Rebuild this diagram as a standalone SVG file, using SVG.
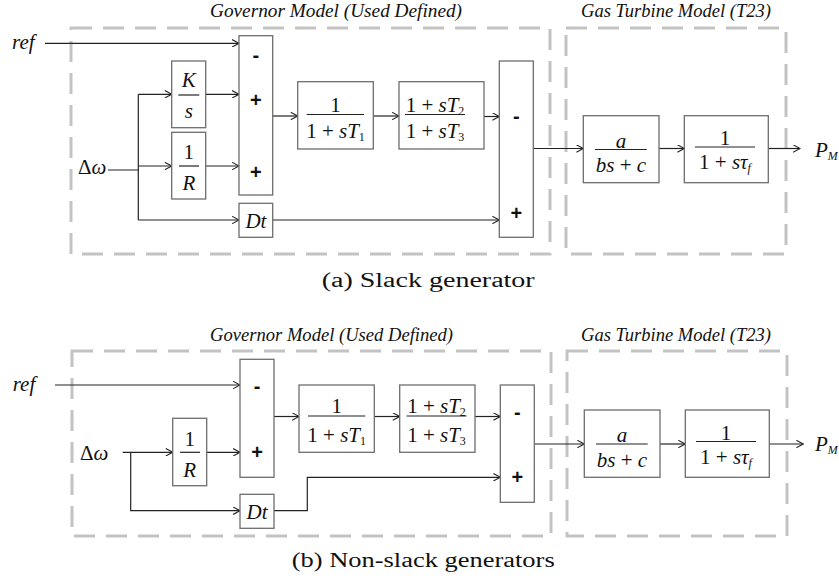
<svg xmlns="http://www.w3.org/2000/svg" width="839" height="581" viewBox="0 0 839 581">
  <style>
    .frame { fill: none; stroke: #c3c3c3; stroke-width: 3; stroke-dasharray: 21 11; }
    .blk { fill: #ffffff; stroke: #6e6e6e; stroke-width: 1.3; }
    .wire { fill: none; stroke: #222222; stroke-width: 1.2; }
    .arr { marker-end: url(#head); }
    .bar { stroke: #222222; stroke-width: 1.2; }
    .m { font-family: 'Liberation Serif', 'DejaVu Serif', serif; font-size: 21px; fill: #111111; text-anchor: middle; }
    .i { font-style: italic; }
    .sub { font-size: 12px; }
    .sign { font-family: 'Liberation Sans', sans-serif; font-size: 20px; font-weight: bold; fill: #111111; text-anchor: middle; }
    .title { font-family: 'Liberation Serif', 'DejaVu Serif', serif; font-style: italic; font-size: 18px; fill: #111111; }
    .cap { font-family: 'Liberation Serif', 'DejaVu Serif', serif; font-size: 20px; fill: #111111; }
  </style>
  <defs>
    <marker id="head" viewBox="0 0 8 8" refX="7.4" refY="4" markerWidth="8" markerHeight="8" markerUnits="userSpaceOnUse" orient="auto">
      <path d="M0.5,0.3 L7.4,4 L0.5,7.7" fill="none" stroke="#222222" stroke-width="1.1"/>
    </marker>
  </defs>
  <rect width="839" height="581" fill="#ffffff"/>

  <!-- ===== (a) Slack generator ===== -->
  <g id="a-frames">
    <rect class="frame" x="71" y="28" width="479" height="226"/>
    <rect class="frame" x="566" y="28" width="220" height="226"/>
    <text class="title" x="210" y="16.5" textLength="252" lengthAdjust="spacingAndGlyphs">Governor Model (Used Defined)</text>
    <text class="title" x="581" y="16.5" textLength="190" lengthAdjust="spacingAndGlyphs">Gas Turbine Model (T23)</text>
  </g>

  <g id="a-wires">
    <path class="wire arr" d="M45,43.3 H239"/>
    <path class="wire" d="M108,170 H138.3 M138.3,94.3 V220"/>
    <path class="wire arr" d="M138.3,94.3 H171.7"/>
    <path class="wire arr" d="M138.3,166 H171.7"/>
    <path class="wire arr" d="M138.3,220 H239"/>
    <path class="wire arr" d="M205.7,94.3 H239"/>
    <path class="wire arr" d="M205.7,166 H239"/>
    <path class="wire arr" d="M272.7,116 H297.7"/>
    <path class="wire arr" d="M373.3,116 H399"/>
    <path class="wire arr" d="M484,116.5 H499.3"/>
    <path class="wire arr" d="M272.7,220 H499.3"/>
    <path class="wire arr" d="M533.3,148.5 H583.3"/>
    <path class="wire arr" d="M659,148.5 H684.3"/>
    <path class="wire arr" d="M768.3,148.5 H800"/>
  </g>

  <g id="a-ref"><text class="m i" x="12" y="48.5" style="text-anchor:start">ref</text></g>
  <g id="a-dw"><text class="m" x="78" y="173.5" style="text-anchor:start">Δ<tspan class="i">ω</tspan></text></g>

  <g id="a-ks">
    <rect class="blk" x="171.7" y="61" width="34" height="66.7"/>
    <text class="m i" x="188.8" y="86.7">K</text>
    <line class="bar" x1="178.3" y1="95" x2="199.3" y2="95"/>
    <text class="m i" x="188.8" y="118.3">s</text>
  </g>
  <g id="a-r">
    <rect class="blk" x="171.7" y="132.3" width="34" height="66.7"/>
    <text class="m" x="188.8" y="159">1</text>
    <line class="bar" x1="179" y1="166" x2="199" y2="166"/>
    <text class="m i" x="188.8" y="190">R</text>
  </g>
  <g id="a-sum1">
    <rect class="blk" x="239" y="35.7" width="33.7" height="159.3"/>
    <text class="sign" x="255.9" y="62">-</text>
    <text class="sign" x="255.9" y="107">+</text>
    <text class="sign" x="255.9" y="179">+</text>
  </g>
  <g id="a-dt">
    <rect class="blk" x="239" y="203.3" width="33.7" height="34"/>
    <text class="m i" x="255.9" y="228">Dt</text>
  </g>
  <g id="a-t1">
    <rect class="blk" x="297.7" y="81.7" width="75.6" height="67.3"/>
    <text class="m" x="335.5" y="112.3">1</text>
    <line class="bar" x1="306.7" y1="114.5" x2="364" y2="114.5"/>
    <text class="m" x="335.5" y="138.3">1 + <tspan class="i">sT</tspan><tspan class="sub" dy="3">1</tspan></text>
  </g>
  <g id="a-t23">
    <rect class="blk" x="399" y="81.7" width="85" height="67.3"/>
    <text class="m" x="435" y="112.3">1 + <tspan class="i">sT</tspan><tspan class="sub" dy="3">2</tspan></text>
    <line class="bar" x1="405" y1="114.5" x2="465" y2="114.5"/>
    <text class="m" x="435" y="138.3">1 + <tspan class="i">sT</tspan><tspan class="sub" dy="3">3</tspan></text>
  </g>
  <g id="a-sum2">
    <rect class="blk" x="499.3" y="61" width="34" height="176.3"/>
    <text class="sign" x="516.3" y="123">-</text>
    <text class="sign" x="516.3" y="219.5">+</text>
  </g>
  <g id="a-abc">
    <rect class="blk" x="583.3" y="115.7" width="75.7" height="67"/>
    <text class="m i" x="621" y="147.5">a</text>
    <line class="bar" x1="595" y1="149.5" x2="646.7" y2="149.5"/>
    <text class="m" x="621" y="171.7"><tspan class="i">bs</tspan> + <tspan class="i">c</tspan></text>
  </g>
  <g id="a-tf">
    <rect class="blk" x="684.3" y="115.7" width="84" height="67"/>
    <text class="m" x="725" y="145">1</text>
    <line class="bar" x1="695" y1="147" x2="755" y2="147"/>
    <text class="m" x="725" y="169">1 + <tspan class="i">sτ</tspan><tspan class="sub i" dy="3">f</tspan></text>
  </g>
  <g id="a-pm"><text class="m i" x="815" y="157" style="text-anchor:start">P<tspan class="sub" font-size="11" dy="3">M</tspan></text></g>

  <g id="a-caption"><text class="cap" x="321.7" y="286.5" textLength="213" lengthAdjust="spacingAndGlyphs">(a) Slack generator</text></g>

  <!-- ===== (b) Non-slack generators ===== -->
  <g id="b-frames">
    <rect class="frame" x="72" y="351" width="479" height="185"/>
    <rect class="frame" x="567" y="351" width="220" height="185"/>
    <text class="title" x="210" y="341" textLength="243" lengthAdjust="spacingAndGlyphs">Governor Model (Used Defined)</text>
    <text class="title" x="581" y="341" textLength="190" lengthAdjust="spacingAndGlyphs">Gas Turbine Model (T23)</text>
  </g>

  <g id="b-wires">
    <path class="wire arr" d="M55,385 H240"/>
    <path class="wire arr" d="M122.7,452.3 H172.7"/>
    <path class="wire arr" d="M130.7,452.3 V510.7 H240"/>
    <path class="wire arr" d="M206.7,452.3 H240"/>
    <path class="wire arr" d="M274,510.7 H307.3 V477.3 H500.3"/>
    <path class="wire arr" d="M274,416.5 H299"/>
    <path class="wire arr" d="M374.3,416.5 H399.7"/>
    <path class="wire arr" d="M475,416.5 H500.3"/>
    <path class="wire arr" d="M534.3,444 H584.3"/>
    <path class="wire arr" d="M660,444 H685.3"/>
    <path class="wire arr" d="M769.3,444 H803.3"/>
  </g>

  <g id="b-ref"><text class="m i" x="12.7" y="391" style="text-anchor:start">ref</text></g>
  <g id="b-dw"><text class="m" x="80" y="459.5" style="text-anchor:start">Δ<tspan class="i">ω</tspan></text></g>

  <g id="b-r">
    <rect class="blk" x="172.7" y="418.3" width="34" height="67.4"/>
    <text class="m" x="189.7" y="446">1</text>
    <line class="bar" x1="180" y1="452.3" x2="200" y2="452.3"/>
    <text class="m i" x="189.7" y="476.7">R</text>
  </g>
  <g id="b-sum1">
    <rect class="blk" x="240" y="359.3" width="34" height="118"/>
    <text class="sign" x="257" y="393">-</text>
    <text class="sign" x="257" y="458.5">+</text>
  </g>
  <g id="b-dt">
    <rect class="blk" x="240" y="494.3" width="34" height="34"/>
    <text class="m i" x="257" y="519">Dt</text>
  </g>
  <g id="b-t1">
    <rect class="blk" x="299" y="385" width="75.3" height="67.3"/>
    <text class="m" x="336.7" y="413">1</text>
    <line class="bar" x1="308" y1="416" x2="365.3" y2="416"/>
    <text class="m" x="336.7" y="441.5">1 + <tspan class="i">sT</tspan><tspan class="sub" dy="3">1</tspan></text>
  </g>
  <g id="b-t23">
    <rect class="blk" x="399.7" y="385" width="75.3" height="67.3"/>
    <text class="m" x="436.5" y="413">1 + <tspan class="i">sT</tspan><tspan class="sub" dy="3">2</tspan></text>
    <line class="bar" x1="406.5" y1="416" x2="466.5" y2="416"/>
    <text class="m" x="436.5" y="441.5">1 + <tspan class="i">sT</tspan><tspan class="sub" dy="3">3</tspan></text>
  </g>
  <g id="b-sum2">
    <rect class="blk" x="500.3" y="385" width="34" height="117.3"/>
    <text class="sign" x="517.3" y="418.5">-</text>
    <text class="sign" x="517.3" y="483.5">+</text>
  </g>
  <g id="b-abc">
    <rect class="blk" x="584.3" y="410" width="75.7" height="67.3"/>
    <text class="m i" x="622" y="442">a</text>
    <line class="bar" x1="596" y1="444" x2="647.7" y2="444"/>
    <text class="m" x="622" y="466.5"><tspan class="i">bs</tspan> + <tspan class="i">c</tspan></text>
  </g>
  <g id="b-tf">
    <rect class="blk" x="685.3" y="410" width="84" height="67.3"/>
    <text class="m" x="726" y="439.5">1</text>
    <line class="bar" x1="696" y1="441.5" x2="756" y2="441.5"/>
    <text class="m" x="726" y="464">1 + <tspan class="i">sτ</tspan><tspan class="sub i" dy="3">f</tspan></text>
  </g>
  <g id="b-pm"><text class="m i" x="815" y="451" style="text-anchor:start">P<tspan class="sub" font-size="11" dy="3">M</tspan></text></g>

  <g id="b-caption"><text class="cap" x="291.7" y="567" textLength="263" lengthAdjust="spacingAndGlyphs">(b) Non-slack generators</text></g>
</svg>
